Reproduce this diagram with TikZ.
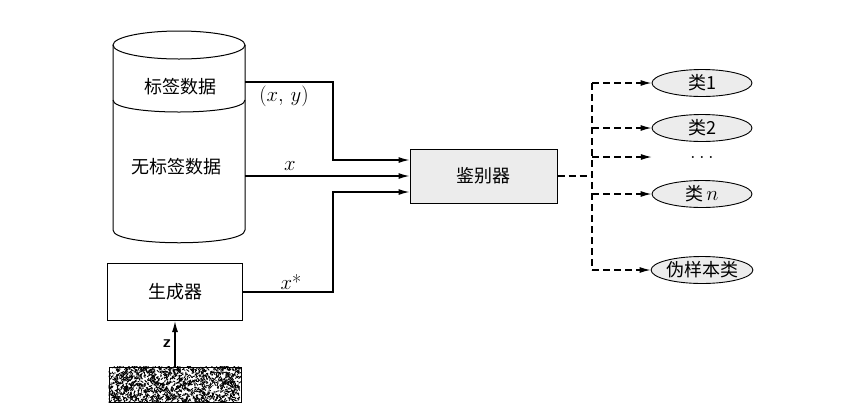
\documentclass[tikz,border=0pt]{standalone}
\usepackage{fontspec}
\newfontfamily\cjk{Noto Sans CJK SC}
\usetikzlibrary{arrows.meta,shapes.geometric}

\tikzset{
  every node/.style={font=\cjk\fontsize{18}{21}\selectfont},
  lbl/.style={font=\fontsize{20}{24}\selectfont},
  block/.style={draw, line width=1pt, inner sep=0pt},
  classnode/.style={ellipse, draw, line width=0.9pt, fill=gray!15, minimum width=100pt, minimum height=27pt, inner sep=0pt},
  link/.style={line width=1.3pt, -{Latex[length=11pt,width=6pt]}},
  dline/.style={line width=1.3pt, dash pattern=on 7pt off 4pt},
  dlink/.style={dline, -{Latex[length=11pt,width=6pt]}},
}

\begin{document}
\begin{tikzpicture}[x=1pt, y=-1pt]
    \useasboundingbox (0,0) rectangle (852,408);

    % Draw Data Store (cylinder)
    \draw[line width=1pt] (179,45) ellipse [x radius=66pt, y radius=14pt];
    \draw[line width=1pt] (113,45) -- (113,230) .. controls (113,247) and (245,247) .. (245,230) -- (245,45);
    \draw[line width=1pt] (113,100) .. controls (113,116) and (245,116) .. (245,100);
    \node (labeled) at (180,87) {标签数据};
    \node (unlabeled) at (176,167) {无标签数据};
    \coordinate (cylL) at (245,82);
    \coordinate (cylU) at (245,176);

    % Draw Generator and Noise
    \node[block, minimum width=135pt, minimum height=57pt] (gen) at (175,292) {生成器};
    \node[block, minimum width=132pt, minimum height=35pt] (noise) at (175,384.5) {};
    \begin{scope}
      \clip (noise.south west) rectangle (noise.north east);
      \pgfmathsetseed{7}
      \foreach \i in {1,...,1400}
        \draw[line width=0.9pt] (109+131*rnd, 367+35*rnd) -- ++(3*rand, 3*rand);
    \end{scope}
    \draw[link] (noise.north) -- (gen.south) node[midway, left, font=\sffamily\bfseries\fontsize{17}{20}\selectfont] {z};

    % Draw Discriminator
    \node[block, fill=gray!15, minimum width=147pt, minimum height=54pt] (disc) at (483.5,176) {鉴别器};

    % Inputs to Discriminator
    \draw[link] (cylL) -- (333,82) |- ([yshift=16pt]disc.west);
    \draw[link] (cylU) -- (disc.west);
    \draw[link] (gen.east) -- (333,292) |- ([yshift=-16pt]disc.west);
    \node[lbl] (xy) at (284,96) {$(x,\,y)$};
    \node[lbl] (xu) at (290,166) {$x$};
    \node[lbl] (xg) at (291,282) {$x$*};

    % Output Classes
    \node[classnode] (c1) at (702,83) {类1};
    \node[classnode] (c2) at (702,128) {类2};
    \node[lbl, minimum width=100pt, inner sep=0pt] (dots) at (702,157) {$\dots$};
    \node[classnode] (cn) at (702,194) {类\,{\fontsize{20}{24}\selectfont$n$}};
    \node[classnode] (fake) at (702,270) {伪样本类};
    \coordinate (split) at (592,176);

    \draw[dline] (disc.east) -- (split);
    \draw[dline] (split |- c1.west) -- (split |- fake.west);
    \foreach \c in {c1, c2, dots, cn, fake}
      \draw[dlink] (split |- \c.west) -- (\c.west);

\end{tikzpicture}
\end{document}
